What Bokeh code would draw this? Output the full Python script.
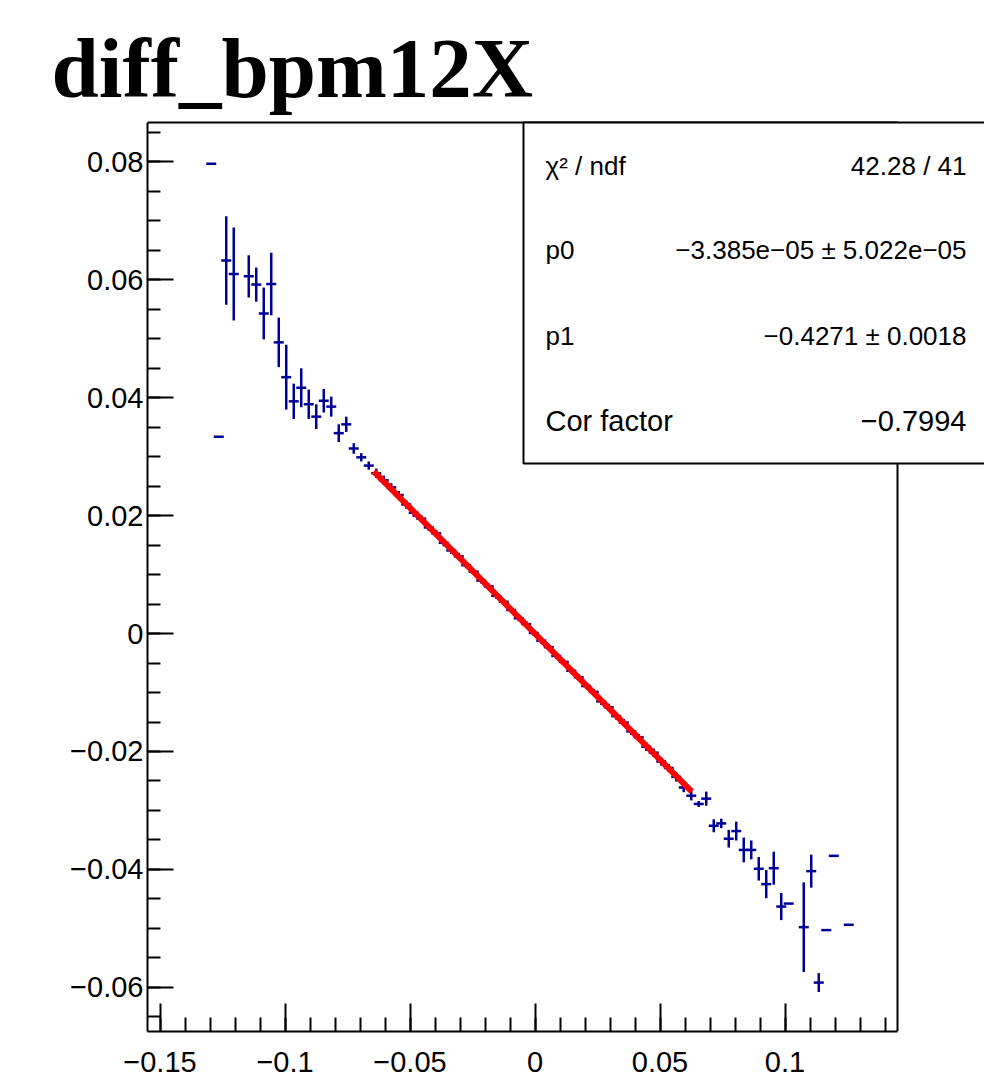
import numpy as np
from bokeh.plotting import figure
from bokeh.models import FixedTicker, Range1d, ColumnDataSource
from bokeh.embed import file_html
from bokeh.resources import INLINE
from bokeh.core.properties import value

# ---------------- data ----------------
title_text = "diff_bpm12X"
x_lo, x_hi = -0.155, 0.145      # histogram x axis range
y_lo, y_hi = -0.0675, 0.0867    # displayed y range

bin_x = [-0.1295, -0.1265, -0.1235, -0.1205, -0.1145, -0.1115, -0.1085, -0.1055,
         -0.1025, -0.0995, -0.0965, -0.0935, -0.0905, -0.0875, -0.0845, -0.0815,
         -0.0785, -0.0755, -0.0725, -0.0695, -0.0665,
         -0.0635, -0.0605, -0.0575, -0.0545, -0.0515, -0.0485, -0.0455, -0.0425,
         -0.0395, -0.0365, -0.0335, -0.0305, -0.0275, -0.0245, -0.0215, -0.0185,
         -0.0155, -0.0125, -0.0095, -0.0065, -0.0035, -0.0005, 0.0025, 0.0055,
         0.0085, 0.0115, 0.0145, 0.0175, 0.0205, 0.0235, 0.0265, 0.0295, 0.0325,
         0.0355, 0.0385, 0.0415, 0.0445, 0.0475, 0.0505, 0.0535, 0.0565, 0.0595,
         0.0625,
         0.0655, 0.0685, 0.0715, 0.0745, 0.0775, 0.0805, 0.0835, 0.0865, 0.0895,
         0.0925, 0.0955, 0.0985, 0.1015, 0.1075, 0.1105, 0.1135, 0.1165, 0.1195,
         0.1255]
bin_y = [0.0797, 0.0334, 0.0633, 0.0610, 0.0606, 0.0592, 0.0543, 0.0593,
         0.0494, 0.0435, 0.0394, 0.0417, 0.0389, 0.0368, 0.0395, 0.0385,
         0.0340, 0.0355, 0.0314, 0.0299, 0.0285,
         0.0272, 0.0260, 0.0248, 0.0235, 0.0219, 0.0205, 0.0195, 0.0180,
         0.0170, 0.0154, 0.0141, 0.0131, 0.0116, 0.0105, 0.0090, 0.0080,
         0.0064, 0.0054, 0.0040, 0.0026, 0.0016, 0.0001, -0.0012, -0.0023,
         -0.0038, -0.0048, -0.0063, -0.0074, -0.0089, -0.0099, -0.0115, -0.0125,
         -0.0140, -0.0151, -0.0166, -0.0176, -0.0192, -0.0202, -0.0217, -0.0228,
         -0.0243, -0.0261, -0.0275,
         -0.0289, -0.0280, -0.0326, -0.0322, -0.0348, -0.0335, -0.0367, -0.0367,
         -0.0399, -0.0425, -0.0398, -0.0463, -0.0458, -0.0498, -0.0403, -0.0592,
         -0.0503, -0.0377, -0.0494]
bin_err = [0.0, 0.0, 0.0075, 0.0079, 0.0036, 0.0029, 0.0044, 0.0053,
           0.0042, 0.0055, 0.0030, 0.0033, 0.0025, 0.0021, 0.0020, 0.0017,
           0.0015, 0.0013, 0.0009, 0.0007, 0.0007,
           0.0008, 0.0008, 0.0007, 0.0007, 0.0007, 0.0007, 0.0006, 0.0006,
           0.0006, 0.0006, 0.0006, 0.0006, 0.0005, 0.0005, 0.0005, 0.0005,
           0.0005, 0.0005, 0.0005, 0.0005, 0.0005, 0.0005, 0.0005, 0.0005,
           0.0005, 0.0005, 0.0005, 0.0005, 0.0005, 0.0005, 0.0006, 0.0006,
           0.0006, 0.0006, 0.0006, 0.0006, 0.0007, 0.0007, 0.0007, 0.0007,
           0.0008, 0.0008, 0.0008,
           0.0005, 0.0012, 0.0011, 0.0008, 0.0015, 0.0016, 0.0021, 0.0016,
           0.0020, 0.0024, 0.0028, 0.0023, 0.0, 0.0076, 0.0028, 0.0016,
           0.0, 0.0, 0.0]
bin_half_width = 0.0015

fit_x = [-0.0645, 0.0627]
fit_p0 = -3.385e-05
fit_p1 = -0.4271

stat_names = ["χ² / ndf", "p0", "p1", "Cor factor"]
stat_values = ["42.28 / 41", "−3.385e−05 ± 5.022e−05", "−0.4271 ± 0.0018", "−0.7994"]
stat_sizes = ["26px", "26px", "26px", "29px"]

x_ticks = [-0.15, -0.1, -0.05, 0.0, 0.05, 0.1]
x_tick_labels = ["−0.15", "−0.1", "−0.05", "0", "0.05", "0.1"]
y_ticks = [-0.06, -0.04, -0.02, 0.0, 0.02, 0.04, 0.06, 0.08]
y_tick_labels = ["−0.06", "−0.04", "−0.02", "0", "0.02", "0.04", "0.06", "0.08"]
x_minor = [round(v, 3) for v in np.arange(-0.15, 0.1451, 0.01)]
y_minor = [round(v, 3) for v in np.arange(-0.065, 0.0851, 0.005)]

# ---------------- layout (canvas pixels) ----------------
W, H = 984, 1088
FL, FR, FT, FB = 147, 984, 118, 1031      # bokeh frame
RL, RR, RT, RB = 147, 897, 122, 1031      # histogram frame
sx = (RR - RL) / (x_hi - x_lo)
sy = (RB - RT) / (y_hi - y_lo)
x_end = x_lo + (FR - FL) / sx
y_end = y_hi + (RT - FT) / sy


def px2x(px):
    return x_lo + (px - RL) / sx


def py2y(py):
    return y_hi - (py - RT) / sy


p = figure(width=W, height=H, x_range=Range1d(x_lo, x_end), y_range=Range1d(y_lo, y_end),
           output_backend="svg", toolbar_location=None,
           min_border_left=FL, min_border_right=0, min_border_top=FT, min_border_bottom=H - FB)
p.outline_line_color = None
p.grid.visible = False
p.background_fill_color = "white"
p.border_fill_color = "white"

p.title.text = title_text
p.title.text_font = "Liberation Serif"
p.title.text_font_style = "bold"
p.title.text_font_size = "85px"
p.title.text_color = "black"
p.title.align = "left"
p.title.offset = -96
p.title.standoff = 8

for ax, ticks, minor, labels, bounds in (
        (p.xaxis, x_ticks, x_minor, x_tick_labels, (x_lo, x_hi)),
        (p.yaxis, y_ticks, y_minor, y_tick_labels, (y_lo, y_hi))):
    ax.ticker = FixedTicker(ticks=ticks, minor_ticks=minor)
    ax.major_label_overrides = dict(zip(ticks, labels))
    ax.bounds = bounds
    ax.axis_line_width = 2
    ax.major_tick_line_width = 2
    ax.minor_tick_line_width = 2
    ax.major_tick_out = 0
    ax.minor_tick_out = 0
    ax.major_label_text_font = "Liberation Sans"
    ax.major_label_text_font_size = "29px"
    ax.major_label_text_color = "black"
    ax.axis_line_color = "black"
    ax.major_tick_line_color = "black"
    ax.minor_tick_line_color = "black"

p.xaxis.major_tick_in = 28
p.xaxis.minor_tick_in = 14
p.xaxis.major_label_standoff = 20
p.yaxis.major_tick_in = 26
p.yaxis.minor_tick_in = 13
p.yaxis.major_label_standoff = 4

bx = np.array(bin_x)
by = np.array(bin_y)
be = np.array(bin_err)
src = ColumnDataSource(dict(x=bx, y=by, ylo=by - be, yhi=by + be,
                            xl=bx - bin_half_width, xr=bx + bin_half_width))
blue = "#000099"
p.segment(x0="x", y0="ylo", x1="x", y1="yhi", source=src, line_color=blue, line_width=2.5)
p.segment(x0="xl", y0="y", x1="xr", y1="y", source=src, line_color=blue, line_width=2.5,
          line_cap="square")

fx = np.array(fit_x)
p.line(fx, fit_p0 + fit_p1 * fx, line_color="#ff0000", line_width=6)

# histogram frame: top and right edges
p.segment(x0=[x_lo, x_hi], y0=[y_hi, y_lo], x1=[x_hi, x_hi], y1=[y_hi, y_hi],
          line_color="black", line_width=2)

# stats box
p.quad(left=[px2x(523)], right=[px2x(FR + 30)], top=[y_hi], bottom=[py2y(463)],
       fill_color="white", line_color="black", line_width=2)
row_py = [165, 249, 335, 420]
ssrc = ColumnDataSource(dict(xl=[px2x(545)] * 4, xr=[px2x(966)] * 4,
                             y=[py2y(v) for v in row_py],
                             name=stat_names, val=stat_values, size=stat_sizes))
p.text(x="xl", y="y", text="name", source=ssrc, text_align="left", text_baseline="middle",
       text_font=value("Liberation Sans"), text_font_size="size", text_color="black")
p.text(x="xr", y="y", text="val", source=ssrc, text_align="right", text_baseline="middle",
       text_font=value("Liberation Sans"), text_font_size="size", text_color="black")

open("out.html", "w").write(file_html(p, INLINE))
